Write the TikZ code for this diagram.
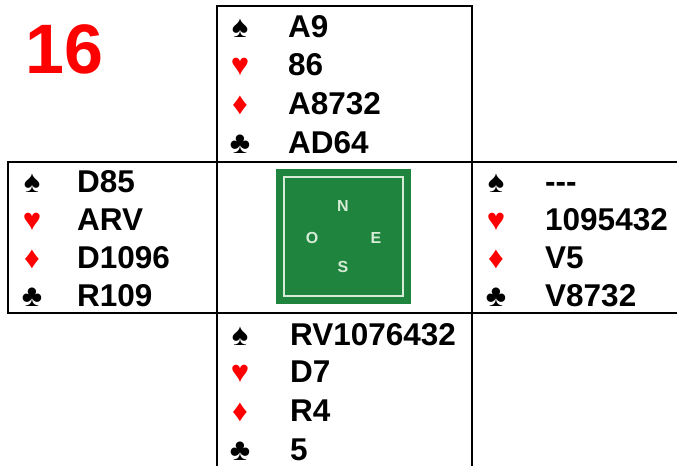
\documentclass[tikz,border=0pt]{standalone}
\usepackage{fontspec}
\setmainfont{Liberation Sans}
\usetikzlibrary{positioning}

\definecolor{boardred}{RGB}{255,0,0}
\definecolor{felt}{RGB}{30,132,62}
\definecolor{feltline}{RGB}{214,236,214}

\begin{document}
\begin{tikzpicture}[
    x=1pt, y=-1pt,
    frame/.style={draw=black, line width=2pt},
    dealno/.style={
        anchor=base west, inner sep=0pt, text=boardred, font=\fontsize{70}{70}\selectfont\bfseries
    },
    suitblack/.style={
        anchor=base, inner sep=0pt, text=black, font=\fontsize{31}{31}\selectfont
    },
    suitred/.style={suitblack, text=boardred},
    holding/.style={
        anchor=base west, inner sep=0pt, text=black, font=\fontsize{31.5}{31.5}\selectfont\bfseries
    },
    compass/.style={
        inner sep=0pt, text=feltline, font=\fontsize{16}{16}\selectfont\bfseries
    }
]

    \useasboundingbox (0,0) rectangle (677,466);

    % Board number
    \node[dealno] (board) at (25,73) {16};

    % Frame
    \draw[frame] (217,466) -- (217,6) -- (472,6) -- (472,466);
    \draw[frame] (677,162) -- (8,162) -- (8,313) -- (677,313);

    % Table
    \fill[felt] (276,169) rectangle (411,304);
    \draw[draw=feltline, line width=1.2pt] (284,177) rectangle (403,296);
    \node[compass] (north) at (343,206) {N};
    \node[compass] (west) at (312,238) {O};
    \node[compass] (east) at (376,238) {E};
    \node[compass] (south) at (343,267) {S};

    % North hand
    \node[suitblack] (nsp) at (240,37) {♠};
    \node[holding] (nsptxt) at (288,37) {A9};
    \node[suitred] (nhe) at (240,75) {♥};
    \node[holding] (nhetxt) at (288,75) {86};
    \node[suitred] (ndi) at (240,114) {♦};
    \node[holding] (nditxt) at (288,114) {A8732};
    \node[suitblack] (ncl) at (240,153) {♣};
    \node[holding] (ncltxt) at (288,153) {AD64};

    % West hand
    \node[suitblack] (wsp) at (32,192) {♠};
    \node[holding] (wsptxt) at (77,192) {D85};
    \node[suitred] (whe) at (32,230) {♥};
    \node[holding] (whetxt) at (77,230) {ARV};
    \node[suitred] (wdi) at (32,268) {♦};
    \node[holding] (wditxt) at (77,268) {D1096};
    \node[suitblack] (wcl) at (32,306) {♣};
    \node[holding] (wcltxt) at (77,306) {R109};

    % East hand
    \node[suitblack] (esp) at (496,192) {♠};
    \node[holding] (esptxt) at (545,192) {-{}-{}-};
    \node[suitred] (ehe) at (496,230) {♥};
    \node[holding] (ehetxt) at (545,230) {1095432};
    \node[suitred] (edi) at (496,268) {♦};
    \node[holding] (editxt) at (545,268) {V5};
    \node[suitblack] (ecl) at (496,306) {♣};
    \node[holding] (ecltxt) at (545,306) {V8732};

    % South hand
    \node[suitblack] (ssp) at (240,345) {♠};
    \node[holding] (ssptxt) at (290,345) {RV1076432};
    \node[suitred] (she) at (240,382) {♥};
    \node[holding] (shetxt) at (290,382) {D7};
    \node[suitred] (sdi) at (240,421) {♦};
    \node[holding] (sditxt) at (290,421) {R4};
    \node[suitblack] (scl) at (240,460) {♣};
    \node[holding] (scltxt) at (290,460) {5};

\end{tikzpicture}
\end{document}
